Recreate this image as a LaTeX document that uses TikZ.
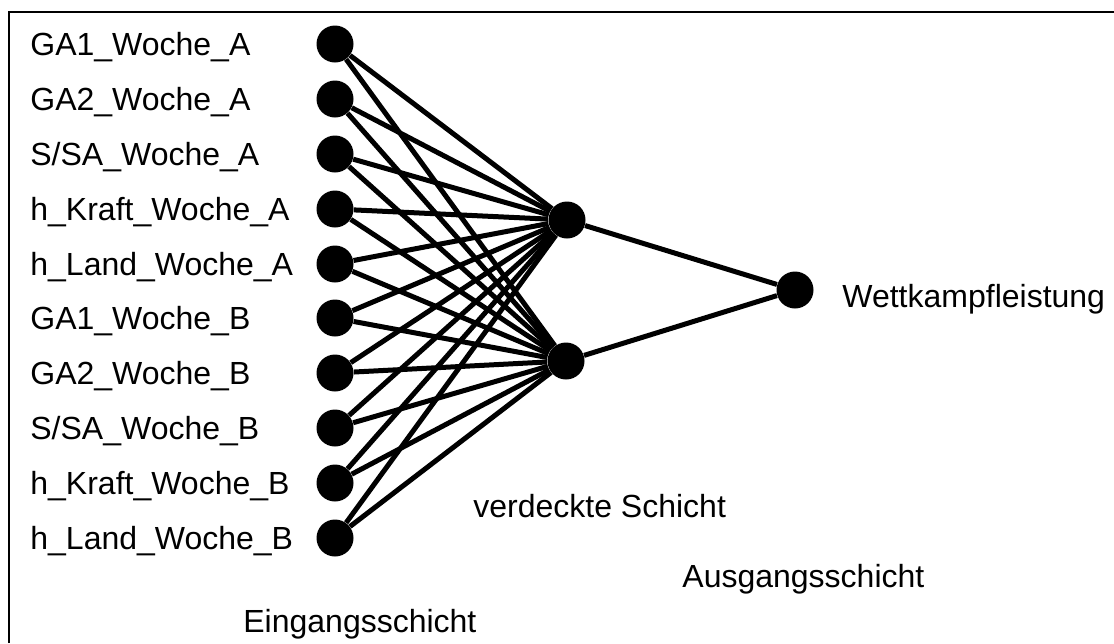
\documentclass[tikz,border=0pt]{standalone}
\usepackage{fontspec}
\setmainfont{Liberation Sans}

\tikzset{
  neuron/.style={circle, fill=black, inner sep=0pt, minimum size=18.5pt},
  synapse/.style={black, line width=2.5pt},
  txt/.style={anchor=base west, inner sep=0pt, font=\fontsize{16}{19}\selectfont},
}

\begin{document}
\begin{tikzpicture}[x=0.5pt, y=-0.5pt]
  \useasboundingbox (0,0) rectangle (1114,643);
  \draw [line width=1.25pt] (9,643) -- (9,12) -- (1114,12);

  % input layer
  \node [neuron] (i1) at (335, 44) {};
  \node [neuron] (i2) at (335, 99) {};
  \node [neuron] (i3) at (335, 154) {};
  \node [neuron] (i4) at (335, 209) {};
  \node [neuron] (i5) at (335, 264) {};
  \node [neuron] (i6) at (335, 318) {};
  \node [neuron] (i7) at (335, 373) {};
  \node [neuron] (i8) at (335, 428) {};
  \node [neuron] (i9) at (335, 483) {};
  \node [neuron] (i10) at (335, 538) {};
  \node [txt] (l1) at (30, 55) {GA1\_Woche\_A};
  \node [txt] (l2) at (30, 110) {GA2\_Woche\_A};
  \node [txt] (l3) at (30, 165) {S/SA\_Woche\_A};
  \node [txt] (l4) at (30, 220) {h\_Kraft\_Woche\_A};
  \node [txt] (l5) at (30, 275) {h\_Land\_Woche\_A};
  \node [txt] (l6) at (30, 329) {GA1\_Woche\_B};
  \node [txt] (l7) at (30, 384) {GA2\_Woche\_B};
  \node [txt] (l8) at (30, 439) {S/SA\_Woche\_B};
  \node [txt] (l9) at (30, 494) {h\_Kraft\_Woche\_B};
  \node [txt] (l10) at (30, 549) {h\_Land\_Woche\_B};

  % hidden layer
  \node [neuron] (h1) at (567, 220) {};
  \node [neuron] (h2) at (566, 361) {};

  % output layer
  \node [neuron] (o) at (795, 290) {};
  \node [txt] (lo) at (842, 307) {Wettkampfleistung};

  \draw [synapse] (i1) to (h1);
  \draw [synapse] (i1) to (h2);
  \draw [synapse] (i2) to (h1);
  \draw [synapse] (i2) to (h2);
  \draw [synapse] (i3) to (h1);
  \draw [synapse] (i3) to (h2);
  \draw [synapse] (i4) to (h1);
  \draw [synapse] (i4) to (h2);
  \draw [synapse] (i5) to (h1);
  \draw [synapse] (i5) to (h2);
  \draw [synapse] (i6) to (h1);
  \draw [synapse] (i6) to (h2);
  \draw [synapse] (i7) to (h1);
  \draw [synapse] (i7) to (h2);
  \draw [synapse] (i8) to (h1);
  \draw [synapse] (i8) to (h2);
  \draw [synapse] (i9) to (h1);
  \draw [synapse] (i9) to (h2);
  \draw [synapse] (i10) to (h1);
  \draw [synapse] (i10) to (h2);
  \draw [synapse] (h1) to (o);
  \draw [synapse] (h2) to (o);

  % layer names
  \node [txt] (hid) at (473, 517) {verdeckte Schicht};
  \node [txt] (out) at (682, 587) {Ausgangsschicht};
  \node [txt] (inp) at (243, 632) {Eingangsschicht};
\end{tikzpicture}
\end{document}
